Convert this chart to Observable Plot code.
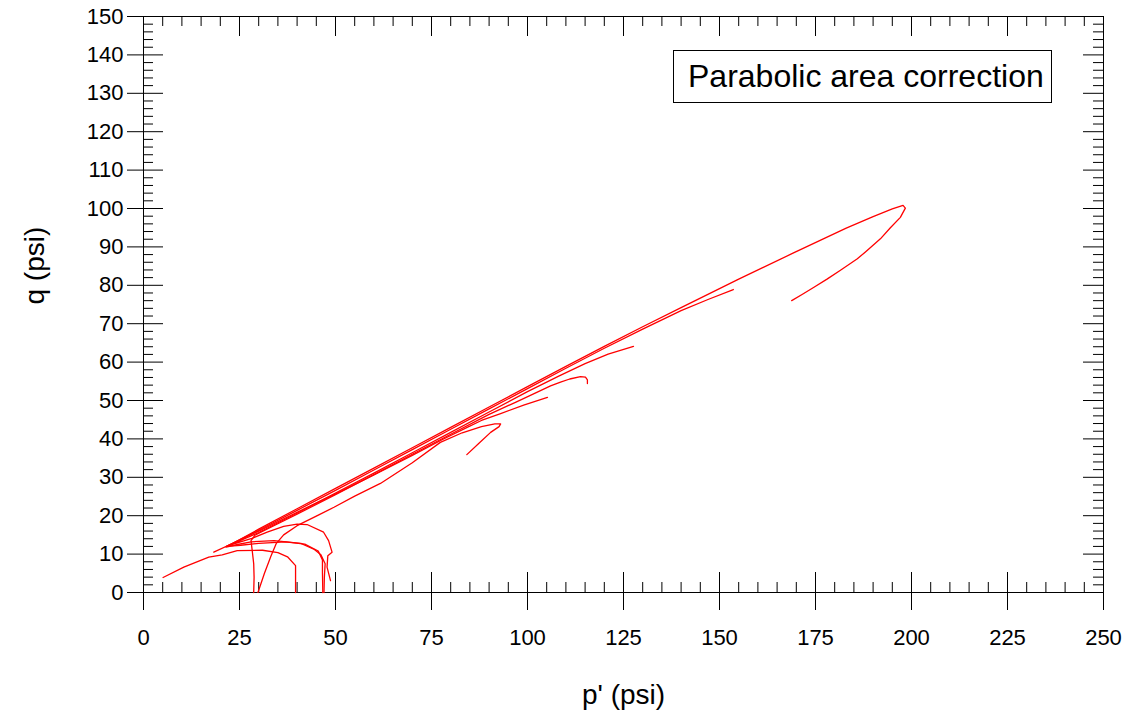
<!DOCTYPE html>
<html><head><meta charset="utf-8">
<script src="https://cdn.jsdelivr.net/npm/d3@7"></script>
<script src="https://cdn.jsdelivr.net/npm/@observablehq/plot@0.6"></script>
<style>
html,body{margin:0;padding:0;background:#fff;}
#wrap{position:relative;width:1133px;height:719px;}
#legend{position:absolute;left:673px;top:50px;width:379px;height:53px;box-sizing:border-box;border:1px solid #000;background:#fff;font-family:"Liberation Sans",Arial,sans-serif;font-size:32px;line-height:51px;padding-left:14px;white-space:nowrap;color:#000;}
</style></head><body><div id="wrap"></div>
<script>
// Tick values / labels
const xMajor = [0, 25, 50, 75, 100, 125, 150, 175, 200, 225, 250];
const xMinor = d3.range(0, 251, 5).filter(v => v % 25 !== 0);
const yMajor = [0, 10, 20, 30, 40, 50, 60, 70, 80, 90, 100, 110, 120, 130, 140, 150];
const yMinor = d3.range(0, 151, 2).filter(v => v % 10 !== 0);

// Stress paths [p', q] in psi
const test1 = [[47,0],[47.1,4],[47.3,7.5],[46.2,9.8],[44.5,11.2],[41,12.8],[34,13.5],[28,13.2],[24.5,12.5],[21.5,11.8],
  [30,16.5],[40,21.8],[50,27.1],[60,32.4],[70,37.7],[80,43],[90,48.3],[100,53.6],[110,58.9],[120,64.1],[130,69.2],
  [140,74.2],[155,81.6],[169,88.3],[183,94.9],[190,97.9],[195,99.9],[197.8,100.8],[198.4,100.1],[197.1,97.7],
  [194.5,95],[191.9,92.1],[188,88.7],[185.9,86.9],[181.5,83.9],[178,81.6],[174.6,79.5],[171.5,77.6],[168.8,76]];
const test2 = [[46.7,0],[46.6,5.2],[46.6,8.5],[45.5,10.8],[42,12.6],[37,13.2],[30,12.8],[25.3,12.3],[21.6,12],
  [30,16.2],[40,21.4],[50,26.6],[60,31.9],[70,37.2],[80,42.5],[90,47.8],[100,53.1],[110,58.4],[120,63.6],[130,68.6],
  [140,73.4],[147,76.3],[153.6,78.9]];
const test3 = [[48.7,3.1],[47.8,6.6],[48,9.6],[49.1,10.5],[48.2,13.5],[46.9,15.7],[42.6,17.7],[40,17.8],[36.5,17.2],
  [32.2,15.7],[28,14],[24,12.8],[21.8,12.1],
  [30,15.6],[40,20.7],[50,25.9],[60,31.1],[70,36.4],[80,41.7],[90,47],[100,52.3],[108,56.3],[115,59.6],[121,62.1],[127.6,64.1]];
const test4 = [[28.7,0],[28.8,4],[28.7,7.5],[28.3,11],[28,13.5],[29,14.9],[35,17.9],[40,20.4],[50,25.5],[60,30.7],
  [70,36],[80,41.2],[90,46.4],[97,49.6],[102,51.9],[106,53.8],[108.6,54.8],[111,55.6],[113.8,56.2],[115.1,56.1],
  [115.6,55.4],[115.6,54.4]];
const test5 = [[29.8,0],[31.5,5],[33.2,9.5],[34.6,12.8],[36.5,15],[40,17.4],[45,19.9],[49.6,22.2],[55,25.1],
  [61.7,28.4],[70,33.8],[77.3,39.1],[83,41.6],[88,43.2],[91.5,43.9],[93,43.9],[92.6,43.2],[90.4,41.7],[87.5,39],[84.2,35.9]];
const test6 = [[18.3,10.5],[25,13.6],[30,16],[40,20.9],[50,25.7],[60,30.6],[70,35.7],[78,39.9],[84.3,43],[88,44.8],
  [93,46.6],[99,48.8],[105.2,50.8]];
const test7 = [[39.6,0],[39.6,3.5],[39.6,7],[37.5,9.3],[35,10.4],[31,11],[24.4,10.9],[20.5,9.8],[17,9.2],[10.5,6.6],[5.1,3.9]];

const series = [["1", test1], ["2", test2], ["3", test3], ["4", test4], ["5", test5], ["6", test6], ["7", test7]];
const rows = series.flatMap(([id, pts]) => pts.map(([p, q]) => ({test: id, p, q})));

const W = 1133, H = 719, mL = 143, mR = 30, mT = 16, mB = 127;
const iw = W - mL - mR, ih = H - mT - mB;

const chart = Plot.plot({
  width: W, height: H,
  marginLeft: mL, marginRight: mR, marginTop: mT, marginBottom: mB,
  x: {domain: [0, 250]},
  y: {domain: [0, 150]},
  style: {fontFamily: '"Liberation Sans", Arial, sans-serif', background: "#fff", color: "#000"},
  marks: [
    // bottom ticks
    Plot.ruleX(xMajor, {x: d => d, insetTop: ih - 20, insetBottom: -18}),
    Plot.ruleX(xMinor, {x: d => d, insetTop: ih - 10}),
    // top ticks
    Plot.ruleX(xMajor, {x: d => d, insetBottom: ih - 20}),
    Plot.ruleX(xMinor, {x: d => d, insetBottom: ih - 10}),
    // left ticks
    Plot.ruleY(yMajor, {y: d => d, insetLeft: -16, insetRight: iw - 20}),
    Plot.ruleY(yMinor, {y: d => d, insetRight: iw - 10}),
    // right ticks
    Plot.ruleY(yMajor, {y: d => d, insetLeft: iw - 20}),
    Plot.ruleY(yMinor, {y: d => d, insetLeft: iw - 10}),
    Plot.frame({stroke: "#000"}),
    Plot.axisX(xMajor, {tickSize: 0, tickPadding: 37, fontSize: 22, label: null}),
    Plot.axisY(yMajor, {tickSize: 0, tickPadding: 20, fontSize: 22, label: null}),
    Plot.line(rows, {x: "p", y: "q", z: "test", stroke: "#ff0000", strokeWidth: 1.3}),
    Plot.text(["p' (psi)"], {frameAnchor: "bottom", dy: 103, fontSize: 28, lineAnchor: "middle"}),
    Plot.text(["q (psi)"], {frameAnchor: "left", dx: -108, rotate: -90, fontSize: 28})
  ]
});
const wrap = document.getElementById("wrap");
wrap.appendChild(chart);
const leg = document.createElement("div");
leg.id = "legend";
leg.textContent = "Parabolic area correction";
wrap.appendChild(leg);
</script></body></html>
